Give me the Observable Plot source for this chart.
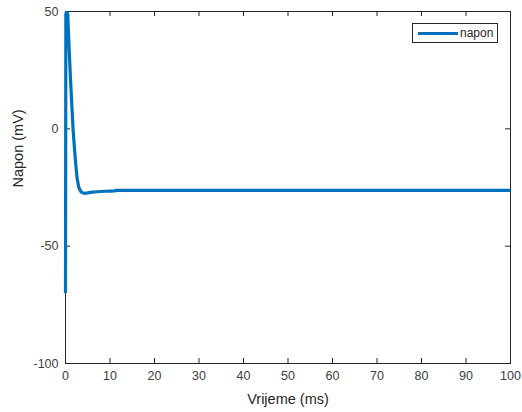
<!DOCTYPE html>
<html>
<head>
<meta charset="utf-8">
<script src="https://cdn.jsdelivr.net/npm/d3@7"></script>
<script src="https://cdn.jsdelivr.net/npm/@observablehq/plot@0.6"></script>
<style>
  body { margin: 0; background: white; }
  #wrap { position: relative; width: 522px; height: 412px; font-family: "Liberation Sans", Arial, Helvetica, sans-serif; }
  #legend { position: absolute; left: 412px; top: 23px; width: 86px; height: 20px; border: 1px solid #262626; background: white; box-sizing: border-box; }
  #legend .sw { position: absolute; left: 5px; top: 7.5px; width: 40px; height: 3.2px; background: #0072BD; }
  #legend .lb { position: absolute; left: 47px; top: 1px; font-size: 12px; color: #262626; line-height: 16px; }
</style>
</head>
<body>
<div id="wrap"></div>
<script>
// time (ms)
const t = [0, 0.08, 0.3, 0.5, 0.8, 1.1, 1.4, 1.7, 2.0, 2.3, 2.6, 3.0, 3.5, 4.2, 5.0, 6.0, 7.0, 8.0, 9.0, 10.0, 11.0, 11.3, 12.0, 20, 40, 60, 80, 100];
// membrane voltage (mV)
const v = [-70, 49, 50, 49, 35, 22, 11, 0, -8, -15, -21, -25, -26.9, -27.5, -27.3, -27.0, -26.8, -26.7, -26.6, -26.55, -26.5, -26.2, -26.2, -26.2, -26.2, -26.2, -26.2, -26.2];
const xTicks = [0, 10, 20, 30, 40, 50, 60, 70, 80, 90, 100];
const yTicks = [-100, -50, 0, 50];
const seriesName = "napon";
const xLabel = "Vrijeme (ms)";
const yLabel = "Napon (mV)";

const data = t.map((x, i) => ({t: x, v: v[i]}));

const W = 522, H = 412, mL = 65, mR = 12, mT = 11, mB = 49;
const innerW = W - mL - mR, innerH = H - mT - mB;
const axisColor = "#262626";

const chart = Plot.plot({
  width: W, height: H,
  marginLeft: mL, marginRight: mR, marginTop: mT, marginBottom: mB,
  x: {domain: [0, 100], ticks: xTicks},
  y: {domain: [-100, 50], ticks: yTicks},
  style: {fontFamily: "'Liberation Sans', Arial, Helvetica, sans-serif", fontSize: "12.5px", color: axisColor, background: "white"},
  marks: [
    Plot.frame({stroke: axisColor, strokeWidth: 1}),
    Plot.tickX(xTicks, {x: d => d, insetTop: innerH - 5, stroke: axisColor}),
    Plot.tickX(xTicks, {x: d => d, insetBottom: innerH - 5, stroke: axisColor}),
    Plot.tickY(yTicks, {y: d => d, insetRight: innerW - 5, stroke: axisColor}),
    Plot.tickY(yTicks, {y: d => d, insetLeft: innerW - 5, stroke: axisColor}),
    Plot.axisX({ticks: xTicks, tickSize: 0, tickPadding: 8, label: null, fill: "#404040", tickFormat: d => String(d)}),
    Plot.axisY({ticks: yTicks, tickSize: 0, tickPadding: 7, label: null, fill: "#404040", tickFormat: d => String(d)}),
    Plot.text([xLabel], {frameAnchor: "bottom", dy: 40, fontSize: 14.5, fill: "#262626"}),
    Plot.text([yLabel], {frameAnchor: "left", dx: -47, rotate: -90, fontSize: 14.5, fill: "#262626"}),
    Plot.line(data, {x: "t", y: "v", stroke: "#0072BD", strokeWidth: 3.2, strokeLinejoin: "miter", strokeLinecap: "butt"})
  ]
});

const wrap = document.getElementById("wrap");
wrap.appendChild(chart);
const leg = document.createElement("div");
leg.id = "legend";
leg.innerHTML = `<div class="sw"></div><div class="lb">${seriesName}</div>`;
wrap.appendChild(leg);
</script>
</body>
</html>
